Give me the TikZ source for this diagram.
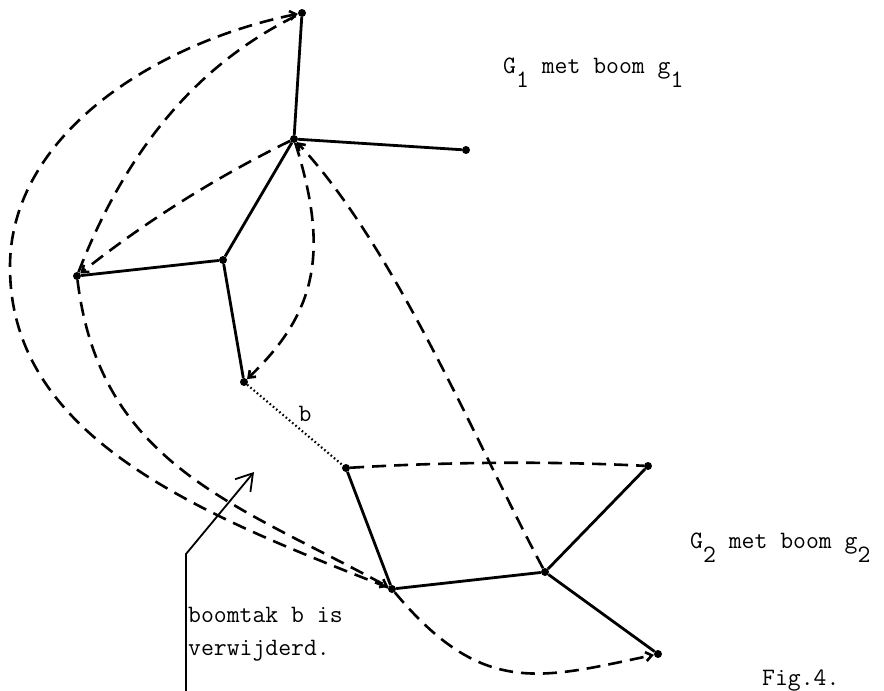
\documentclass[tikz,border=0pt]{standalone}
\usepackage{fontspec}
\usetikzlibrary{arrows.meta}
\begin{document}
\begin{tikzpicture}[x=1pt,y=-1pt,
  vtx/.style={circle,fill=black,inner sep=0pt,minimum size=8pt},
  tree/.style={line width=2.8pt},
  chord/.style={line width=2.6pt,dash pattern=on 14pt off 8pt},
  arrowend/.style={-{Straight Barb[length=6pt,width=9pt]}},
  removed/.style={line width=2.2pt,dash pattern=on 1.6pt off 2.6pt},
  pointer/.style={line width=1.8pt,-{Straight Barb[length=16pt,width=20pt]}},
  lbl/.style={font=\ttfamily\fontsize{25}{33}\selectfont,inner sep=0pt,anchor=base west}]
\useasboundingbox (0,0) rectangle (884,691);

% vertices
\node[vtx] (A) at (302,13) {};
\node[vtx] (B) at (294,139) {};
\node[vtx] (C) at (466,150) {};
\node[vtx] (D) at (223,260) {};
\node[vtx] (E) at (77,276) {};
\node[vtx] (F) at (244,382) {};
\node[vtx] (G) at (346,468) {};
\node[vtx] (H) at (648,466) {};
\node[vtx] (I) at (545,572) {};
\node[vtx] (J) at (392,589) {};
\node[vtx] (K) at (658,654) {};

% spanning tree edges
\draw[tree] (A) -- (B) (B) -- (C) (B) -- (D) (D) -- (E) (D) -- (F);
\draw[tree] (G) -- (J) (J) -- (I) (I) -- (H) (I) -- (K);

% the removed tree branch b
\draw[removed] (F) -- (G);
\node[font=\ttfamily\fontsize{25}{33}\selectfont,inner sep=0pt] (blbl) at (305,414) {b};

% chords
\draw[chord,arrowend] (J) .. controls (197,513) and (10,437) .. (10,267)
                          .. controls (10,135) and (155,43) .. (A);
\draw[chord] (E) .. controls (124,155) and (194,65) .. (A);
\draw[chord,arrowend] (B) .. controls (216.7,176.8) and (144.3,222.4) .. (E);
\draw[chord,arrowend] (B) .. controls (330,253) and (316,313) .. (F);
\draw[chord,arrowend] (I) .. controls (475,441) and (396,249) .. (B);
\draw[chord,arrowend] (E) .. controls (100,464) and (234,503) .. (J);
\draw[chord,arrowend] (J) .. controls (482,697) and (540,679) .. (K);
\draw[chord] (G) .. controls (446,462) and (548,461) .. (H);

% pointer to the gap
\coordinate (pbase) at (186,691);
\coordinate (pknee) at (186,554);
\coordinate (ptip) at (254,472);
\draw[pointer] (pbase) -- (pknee) -- (ptip);

% labels
\node[lbl] (g1) at (503,73) {G\raisebox{-14pt}{1} met boom g\raisebox{-14pt}{1}};
\node[lbl] (g2) at (690,548) {G\raisebox{-14pt}{2} met boom g\raisebox{-14pt}{2}};
\node[lbl] (note1) at (188,622) {boomtak b is};
\node[lbl] (note2) at (188,655) {verwijderd.};
\node[lbl] (fig) at (762,685) {Fig.4.};
\end{tikzpicture}
\end{document}
